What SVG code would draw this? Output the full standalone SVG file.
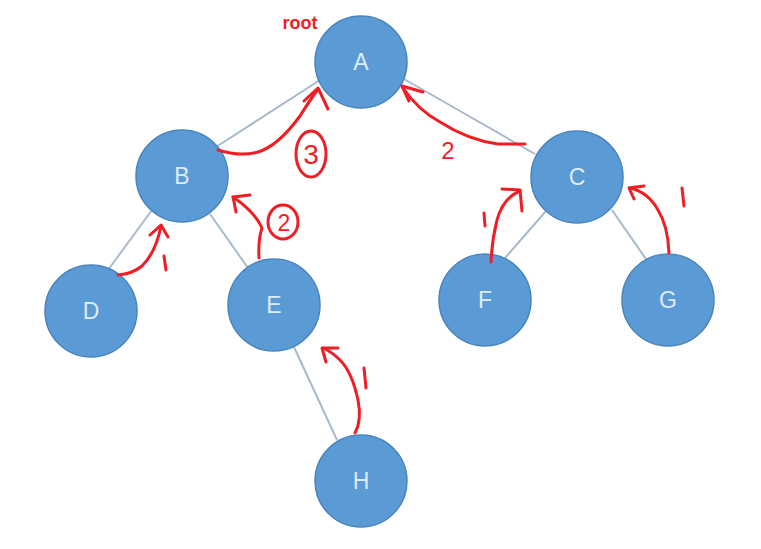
<svg xmlns="http://www.w3.org/2000/svg" width="761" height="549" viewBox="0 0 761 549">
<style>
.node{fill:#5B9BD5;stroke:#4A84BC;stroke-width:1.5}
.lbl{font-family:"Liberation Sans",Arial,sans-serif;font-size:23px;fill:#DDEBF7;text-anchor:middle;dominant-baseline:central}
.edge{stroke:#A9B9CC;stroke-width:2;fill:none}
.ink{stroke:#F01E23;stroke-width:3;fill:none;stroke-linecap:round;stroke-linejoin:round}
.inktxt{font-family:"Liberation Sans",Arial,sans-serif;fill:#F01E23}
</style>
<rect width="761" height="549" fill="#FFFFFF"/>
<g id="edges">
<line class="edge" x1="320" y1="80" x2="216" y2="147"/>
<line class="edge" x1="404" y1="79" x2="535" y2="154"/>
<line class="edge" x1="152" y1="210" x2="108" y2="270"/>
<line class="edge" x1="210" y1="214" x2="248" y2="268"/>
<line class="edge" x1="546" y1="211" x2="505" y2="258"/>
<line class="edge" x1="612" y1="210" x2="648" y2="262"/>
<line class="edge" x1="294" y1="347" x2="337" y2="440"/>
</g>
<g id="node-A"><circle class="node" cx="361" cy="62" r="46"/><text class="lbl" x="361" y="62">A</text></g>
<g id="node-B"><circle class="node" cx="182" cy="176" r="46"/><text class="lbl" x="182" y="176">B</text></g>
<g id="node-C"><circle class="node" cx="577" cy="177" r="46"/><text class="lbl" x="577" y="177">C</text></g>
<g id="node-D"><circle class="node" cx="91" cy="311" r="46"/><text class="lbl" x="91" y="311">D</text></g>
<g id="node-E"><circle class="node" cx="274" cy="305" r="46"/><text class="lbl" x="274" y="305">E</text></g>
<g id="node-F"><circle class="node" cx="485" cy="300" r="46"/><text class="lbl" x="485" y="300">F</text></g>
<g id="node-G"><circle class="node" cx="668" cy="300" r="46"/><text class="lbl" x="668" y="300">G</text></g>
<g id="node-H"><circle class="node" cx="361" cy="481" r="46"/><text class="lbl" x="361" y="481">H</text></g>
<g id="annotations">
<text class="inktxt" x="300" y="29" font-size="18" font-weight="bold" text-anchor="middle">root</text>
<!-- D -> B -->
<path class="ink" d="M118 275 Q132 274 142 266 Q156 252 161 226"/>
<path class="ink" d="M150 235 L161 225 L168 237"/>
<path class="ink" d="M164 256 L166 270"/>
<!-- E -> B (2) -->
<path class="ink" d="M259 258 Q258 240 262 228 Q255 212 233 197"/>
<path class="ink" d="M236 212 L233 197 L250 195"/>
<ellipse class="ink" cx="283" cy="222" rx="15" ry="17" stroke-width="2.5"/>
<text class="inktxt" x="284" y="231" font-size="23" text-anchor="middle">2</text>
<!-- B -> A (3) -->
<path class="ink" d="M218 150 Q240 157 258 152 Q278 146 300 116 Q310 100 318 89"/>
<path class="ink" d="M304 101 L318 88 L328 109"/>
<ellipse class="ink" cx="311" cy="154" rx="15" ry="23" stroke-width="2.5"/>
<text class="inktxt" x="311" y="164" font-size="28" text-anchor="middle">3</text>
<!-- C -> A (2) -->
<path class="ink" d="M525 144 L498 144 Q468 140 440 122 Q418 110 403 88"/>
<path class="ink" d="M423 92 L402 86 L409 101"/>
<text class="inktxt" x="448" y="159" font-size="24" text-anchor="middle">2</text>
<!-- F -> C -->
<path class="ink" d="M491 262 Q492 240 497 220 Q503 198 520 191"/>
<path class="ink" d="M502 189 L520 190 L522 211"/>
<path class="ink" d="M484 213 L485 226"/>
<!-- G -> C -->
<path class="ink" d="M669 253 Q668 226 658 210 Q648 192 630 188"/>
<path class="ink" d="M644 186 L629 188 L634 199"/>
<path class="ink" d="M682 188 L684 206"/>
<!-- H -> E -->
<path class="ink" d="M355 433 Q362 420 358 400 Q352 372 340 360 Q332 352 323 348"/>
<path class="ink" d="M338 348 L322 348 L326 362"/>
<path class="ink" d="M364 368 L366 388"/>
</g>
</svg>
